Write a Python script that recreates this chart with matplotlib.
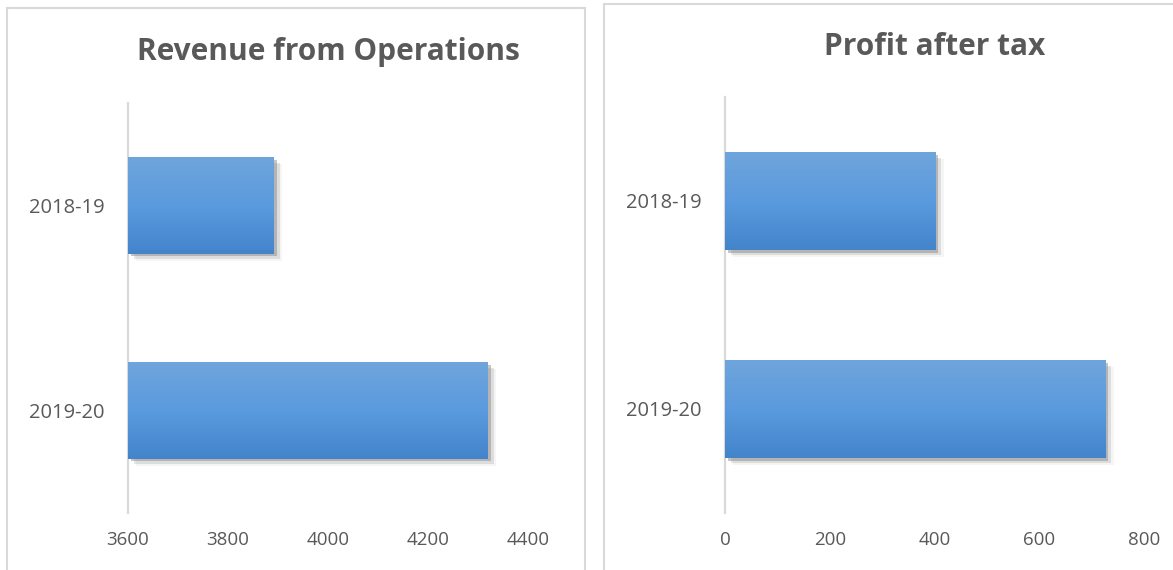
import numpy as np
import matplotlib
matplotlib.use("Agg")
import matplotlib.pyplot as plt
import matplotlib.patheffects as pe
from matplotlib.patches import Rectangle
from matplotlib.colors import LinearSegmentedColormap

plt.rcParams['font.family'] = ['Open Sans', 'DejaVu Sans']

# Data
years = ['2019-20', '2018-19']
revenue = [4320, 3892]
profit = [726, 402]
rev_ticks = [3600, 3800, 4000, 4200, 4400]
pat_ticks = [0, 200, 400, 600, 800]

text_col = '#595959'
grid_col = '#d9d9d9'
grad = LinearSegmentedColormap.from_list('bar', ['#4384cb', '#5a9ade', '#6fa5dc'])

fig = plt.figure(figsize=(11.73, 5.70), dpi=100)

# Panel borders (figure pixel coords -> fraction)
W, H = 1173.0, 570.0
fig.patches.append(Rectangle((7 / W, -0.05), 578 / W, 1.05 - 8 / H, transform=fig.transFigure,
                             fill=False, edgecolor=grid_col, lw=1.5))
fig.patches.append(Rectangle((604 / W, -0.05), 600 / W, 1.05 - 4.5 / H, transform=fig.transFigure,
                             fill=False, edgecolor=grid_col, lw=1.5))


def draw_panel(rect, values, ticks, title, title_y):
    ax = fig.add_axes(rect)
    ypos = np.arange(len(years))
    base = ticks[0]
    widths = [v - base for v in values]
    bars = ax.barh(ypos, widths, height=0.47, left=base, color='#5493d6', zorder=2,
                   path_effects=[pe.SimplePatchShadow(offset=(2, -2), shadow_rgbFace='#6f6f6f', alpha=0.4),
                                 pe.SimplePatchShadow(offset=(4, -4), shadow_rgbFace='#7f7f7f', alpha=0.2),
                                 pe.SimplePatchShadow(offset=(6, -5), shadow_rgbFace='#9f9f9f', alpha=0.1),
                                 pe.Normal()])
    # vertical gradient on each bar
    g = np.linspace(0, 1, 100).reshape(-1, 1)
    for b in bars:
        x0, y0 = b.get_x(), b.get_y()
        im = ax.imshow(g, cmap=grad, aspect='auto', origin='lower',
                       extent=[x0, x0 + b.get_width(), y0, y0 + b.get_height()], zorder=3)
        im.set_clip_path(b)
    ax.set_xlim(ticks[0], ticks[-1])
    ax.set_ylim(-0.5, len(years) - 0.5)
    ax.set_xticks(ticks)
    ax.set_yticks(ypos)
    ax.set_yticklabels(years)
    ax.tick_params(length=0, colors=text_col)
    ax.tick_params(axis='y', pad=17, labelsize=14.5)
    ax.tick_params(axis='x', pad=13, labelsize=13.5)
    for s in ['top', 'right', 'bottom']:
        ax.spines[s].set_visible(False)
    ax.spines['left'].set_color(grid_col)
    ax.spines['left'].set_linewidth(1.6)
    ax.set_facecolor('none')
    fig.text(rect[0] + rect[2] / 2, title_y, title, ha='center', va='center',
             fontsize=21.5, fontweight='bold', color=text_col)
    return ax


draw_panel([128 / W, 1 - 513 / H, 400 / W, 410 / H], revenue, rev_ticks,
           'Revenue from Operations', 1 - 52 / H)
draw_panel([725 / W, 1 - 513 / H, 419 / W, 416 / H], profit, pat_ticks,
           'Profit after tax', 1 - 47 / H)

fig.savefig('out.png', dpi=100)
